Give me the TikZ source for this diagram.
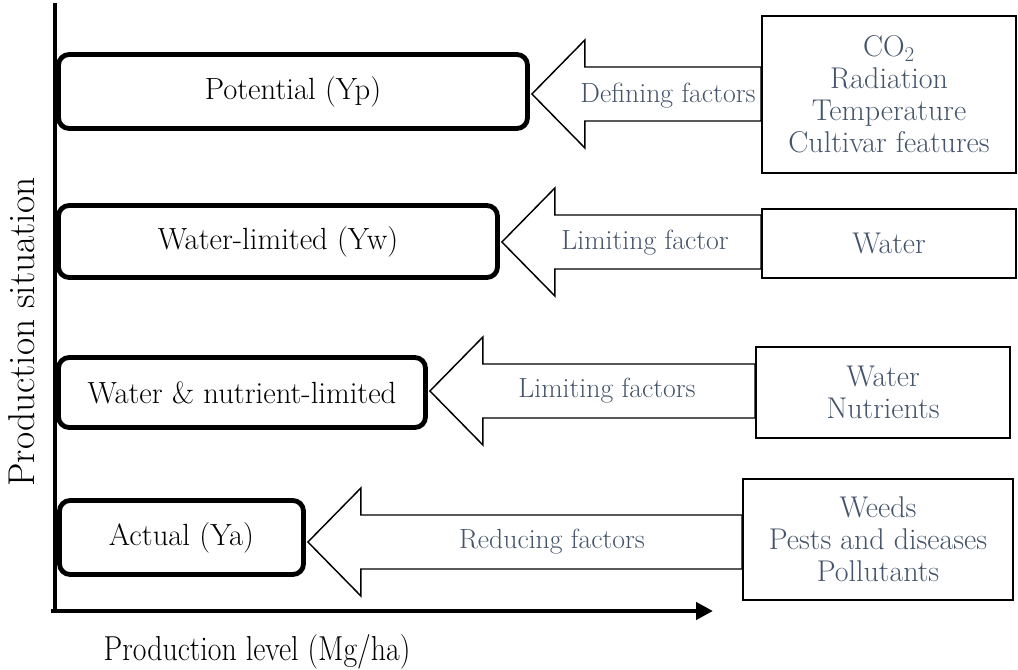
\documentclass[tikz,border=0pt]{standalone}
\usepackage{fontspec}
\usetikzlibrary{arrows.meta,calc}
\definecolor{gtxt}{HTML}{44546A}
\begin{document}
\begin{tikzpicture}[x=0.75pt,y=-0.75pt,
  lbox/.style={draw=black, line width=3.6pt, rounded corners=8pt, fill=white,
    font=\fontsize{23}{26}\selectfont, inner sep=0pt},
  rbox/.style={draw=black, line width=1.2pt, fill=white, text=gtxt, align=center,
    font=\fontsize{22.5}{24}\selectfont, inner sep=0pt},
  blk/.style={draw=black, line width=1.1pt, fill=white, line join=miter},
  flab/.style={text=gtxt, font=\fontsize{20.8}{24}\selectfont, inner sep=0pt},
]
\useasboundingbox (0,0) rectangle (1018,670);

% axes
\coordinate (O) at (55,611);
\coordinate (ytop) at (55,5);
\coordinate (xend) at (713,611);
\draw[line width=3pt, line cap=rect] (ytop) -- (O);
\draw[line width=3.6pt, -{Triangle[length=12.75pt,width=12.75pt]}] ([xshift=-3pt]O) -- (xend);
\node[rotate=90, font=\fontsize{28}{32}\selectfont, inner sep=0pt] (ylab) at (22,332) {Production situation};
\node[inner sep=0pt] (xlab) at (257,652)
  {\scalebox{0.86}[1]{\fontsize{26}{30}\selectfont Production level (Mg/ha)}};

% left boxes
\node[lbox, minimum width={469*0.75pt}, minimum height={74*0.75pt}] (yp) at (293,91.5) {Potential (Yp)};
\node[lbox, minimum width={439*0.75pt}, minimum height={72*0.75pt}] (yw) at (278,241.5) {Water-limited (Yw)};
\node[lbox, minimum width={367*0.75pt}, minimum height={70*0.75pt}] (yn) at (242,392.5) {Water \& nutrient-limited};
\node[lbox, minimum width={244*0.75pt}, minimum height={74*0.75pt}] (ya) at (181.5,537.5) {Actual (Ya)};

% right boxes
\node[rbox, minimum width={254*0.75pt}, minimum height={157*0.75pt}] (f1) at (889,94.5)
  {CO\textsubscript{2}\\Radiation\\Temperature\\Cultivar features};
\node[rbox, minimum width={254*0.75pt}, minimum height={69*0.75pt}] (f2) at (889,243.5) {Water};
\node[rbox, minimum width={254*0.75pt}, minimum height={91*0.75pt}] (f3) at (883,392.5) {Water\\Nutrients};
\node[rbox, minimum width={270*0.75pt}, minimum height={121*0.75pt}] (f4) at (878,539.5)
  {Weeds\\Pests and diseases\\Pollutants};

% block arrows
\coordinate (y1) at (0,94);
\coordinate (y2) at (0,242);
\coordinate (y3) at (0,391);
\coordinate (y4) at (0,542);
\foreach \l/\r/\yy in {yp/f1/y1, yw/f2/y2, yn/f3/y3, ya/f4/y4}{
  \coordinate (t) at ([xshift=1.5pt]\l.east |- \yy);
  \coordinate (s) at (\r.west |- \yy);
  \draw[blk] (t) -- ++(53,-54) -- ++(0,27) -- ($(s)+(0,-27)$) -- ($(s)+(0,27)$)
     -- ($(t)+(53,27)$) -- ++(0,27) -- cycle;
}

% arrow labels
\node[flab] (a1) at (668,96) {Defining factors};
\node[flab] (a2) at (645,243) {Limiting factor};
\node[flab] (a3) at (607,391) {Limiting factors};
\node[flab] (a4) at (552,542) {Reducing factors};
\end{tikzpicture}
\end{document}
